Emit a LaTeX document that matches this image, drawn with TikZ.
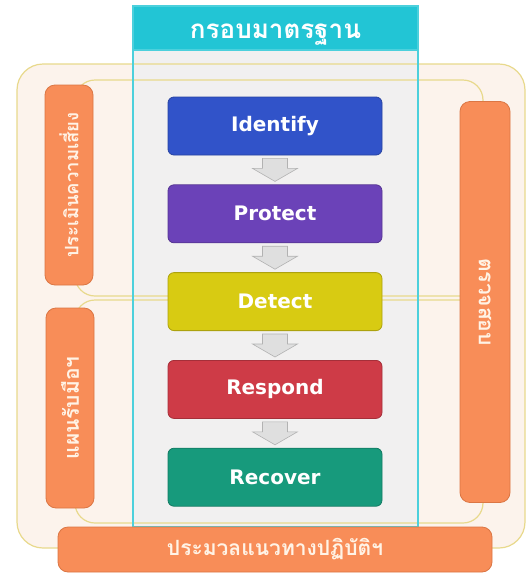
\documentclass[tikz,border=0pt]{standalone}
\usepackage{fontspec}
\setmainfont{DejaVu Sans}
\newfontfamily\thai[Script=Thai]{Loma}
\usetikzlibrary{positioning}
\definecolor{peach}{HTML}{FCF3EC}
\definecolor{colfill}{HTML}{F1F0F0}
\definecolor{gold}{HTML}{E8D98C}
\definecolor{cyanline}{HTML}{4CD0DC}
\definecolor{cyanfill}{HTML}{22C5D5}
\definecolor{pillfill}{HTML}{F88D58}
\definecolor{pillline}{HTML}{DB7644}
\definecolor{pilltext}{HTML}{FFF3E6}
\definecolor{idblue}{HTML}{3153C9}
\definecolor{prpurple}{HTML}{6B42B8}
\definecolor{deyellow}{HTML}{D8CB12}
\definecolor{rered}{HTML}{CE3B47}
\definecolor{rcgreen}{HTML}{179A7C}
\tikzstyle{frame}=[draw=gold,line width=1.2pt,rounded corners=26pt]
\tikzstyle{header}=[rectangle,fill=cyanfill,draw=cyanline,line width=1.2pt,minimum width=285pt,minimum height=44pt,text height=20pt,text depth=0pt,text=white,font=\thai\fontsize{26}{28}\selectfont\bfseries]
\tikzstyle{pill}=[rectangle,draw=pillline,fill=pillfill,line width=0.8pt,rounded corners=10pt,text=pilltext,font=\thai\fontsize{21}{23}\selectfont\bfseries]
\tikzstyle{stage}=[rectangle,minimum width=214pt,minimum height=58pt,rounded corners=6pt,line width=0.8pt,text=white,font=\fontsize{20}{24}\selectfont\bfseries]
\tikzstyle{flow}=[draw=gray!60,fill=gray!25,line width=0.6pt,
  to path={([xshift=-12.5pt,yshift=-3pt]\tikztostart.south) -- ++(0,-10) -- ++(-10,0)
    -- ([yshift=3pt]\tikztotarget.north) -- ++(22.5,13) -- ++(-10,0) -- ++(0,10) -- cycle}]

\begin{document}
\begin{tikzpicture}[x=1pt,y=1pt,node distance=29pt]
\useasboundingbox (0,0) rectangle (530,-574);

% frames
\fill[peach,rounded corners=26pt] (17,-64) rectangle (525,-548);
\fill[colfill] (133,-50) rectangle (418,-527);
\draw[frame] (17,-64) rectangle (525,-548);
\draw[frame,rounded corners=20pt] (75,-80) rectangle (483,-296);
\draw[frame,rounded corners=20pt] (75,-300) rectangle (483,-523);
\draw[cyanline,line width=1.2pt] (133,-50) rectangle (418,-527);
\node[header] (hdr) at (275.5,-28) {กรอบมาตรฐาน};

% stages
\node[stage,fill=idblue,draw=idblue!80!black] (idn) at (275,-126) {Identify};
\node[stage,fill=prpurple,draw=prpurple!80!black,below=of idn] (prt) {Protect};
\node[stage,fill=deyellow,draw=deyellow!80!black,below=of prt] (det) {Detect};
\node[stage,fill=rered,draw=rered!80!black,below=of det] (rsp) {Respond};
\node[stage,fill=rcgreen,draw=rcgreen!80!black,below=of rsp] (rcv) {Recover};
\foreach \a/\b in {idn/prt,prt/det,det/rsp,rsp/rcv}
  \draw[flow] (\a) to (\b);

% side bars
\node[pill,rotate=90,minimum width=200pt,minimum height=48pt,font=\thai\fontsize{18.5}{20}\selectfont\bfseries] (risk) at (69,-185) {ประเมินความเสี่ยง};
\node[pill,rotate=90,minimum width=200pt,minimum height=48pt] (plan) at (70,-408) {แผนรับมือฯ};
\node[pill,rotate=-90,minimum width=401pt,minimum height=50pt] (audit) at (485,-302) {ตรวจสอบ};
\node[pill,minimum width=434pt,minimum height=45pt] (code) at (275,-549.5) {ประมวลแนวทางปฏิบัติฯ};

\end{tikzpicture}
\end{document}
